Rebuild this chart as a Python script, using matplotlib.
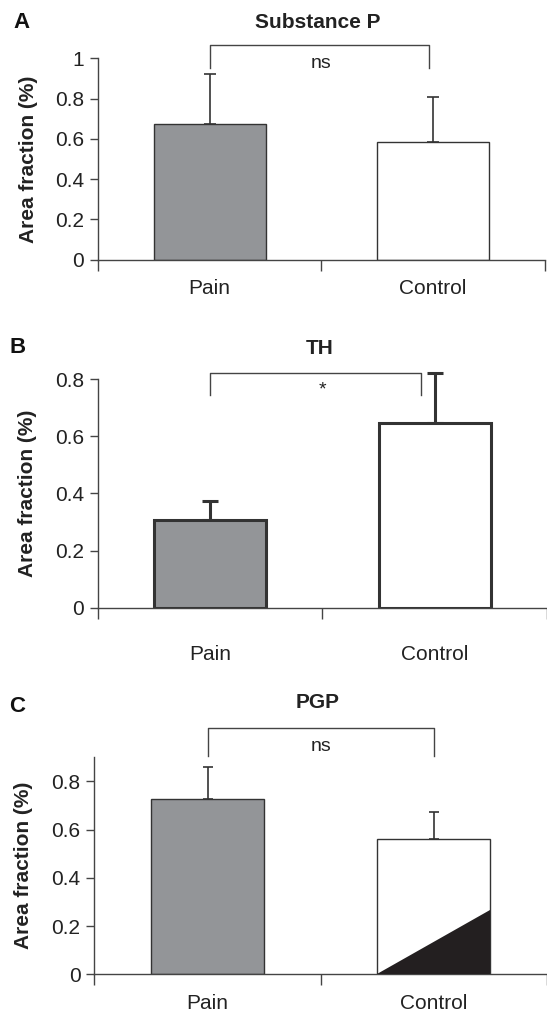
import matplotlib.pyplot as plt

plt.rcParams["font.family"] = ["Liberation Sans", "DejaVu Sans"]

groups = ["Pain", "Control"]
fill_colors = ["#939598", "#ffffff"]

sp_means = [0.672, 0.583]
sp_sem = [0.248, 0.227]

th_means = [0.307, 0.647]
th_sem = [0.068, 0.175]

pgp_means = [0.727, 0.560]
pgp_sem = [0.131, 0.115]
pgp_wedge_height = 0.267  # black wedge inside the control bar

panels = [
    dict(letter="A", title="Substance P", means=sp_means, sem=sp_sem,
         ylim=(0, 1.0), yticks=[0, 0.2, 0.4, 0.6, 0.8, 1.0],
         ytl=["0", "0.2", "0.4", "0.6", "0.8", "1"],
         bracket=(1.066, 0.95, 0.98), mark="ns", mark_y=0.975,
         pos=[0.179, 0.7439, 0.817, 0.1986], lw=1.0, elw=1.2, cap=4.0,
         xpad=14, title_y=23, letter_xy=(0.025, 0.978)),
    dict(letter="B", title="TH", means=th_means, sem=th_sem,
         ylim=(0, 0.8), yticks=[0, 0.2, 0.4, 0.6, 0.8],
         ytl=["0", "0.2", "0.4", "0.6", "0.8"],
         bracket=(0.822, 0.744, 0.94), mark="*", mark_y=0.76,
         pos=[0.179, 0.4007, 0.821, 0.2255], lw=2.2, elw=2.2, cap=5.5,
         xpad=27, title_y=348, letter_xy=(0.018, 0.657)),
    dict(letter="C", title="PGP", means=pgp_means, sem=pgp_sem,
         ylim=(0, 0.9), yticks=[0, 0.2, 0.4, 0.6, 0.8],
         ytl=["0", "0.2", "0.4", "0.6", "0.8"],
         bracket=(1.02, 0.904, 1.0), mark="ns", mark_y=0.945,
         pos=[0.1726, 0.0392, 0.8274, 0.214], lw=1.0, elw=1.2, cap=3.5,
         xpad=14, title_y=703, letter_xy=(0.016, 0.303)),
]

fig = plt.figure(figsize=(5.47, 10.14), dpi=100)

for p in panels:
    ax = fig.add_axes(p["pos"])
    x = list(range(len(groups)))
    width = 0.5
    eb = ax.errorbar(x, p["means"], yerr=[[0] * len(x), p["sem"]], fmt="none",
                     ecolor="#333333", elinewidth=p["elw"], capsize=p["cap"],
                     capthick=p["elw"], zorder=1)
    for art in eb.lines[1] + eb.lines[2]:
        art.set_clip_on(False)
    ax.bar(x, p["means"], width=width, color=fill_colors,
           edgecolor="#333333", linewidth=p["lw"], zorder=2)

    if p["letter"] == "C":
        xc = x[1]
        ax.fill([xc - width / 2, xc + width / 2, xc + width / 2],
                [0, 0, pgp_wedge_height], color="#231f20", zorder=3, lw=0)

    top, leg, xr = p["bracket"]
    ax.plot([0, 0, xr, xr], [leg, top, top, leg], color="#444444",
            lw=1.0, clip_on=False, zorder=4)
    ax.text(0.5, p["mark_y"], p["mark"], ha="center", va="center",
            fontsize=14, color="#222222")

    ax.set_xlim(-0.5, 1.5)
    ax.set_ylim(*p["ylim"])
    ax.set_yticks(p["yticks"])
    ax.set_yticklabels(p["ytl"])
    ax.set_xticks([-0.5, 0.5, 1.5])
    ax.set_xticklabels([])
    ax.set_xticks(x, minor=True)
    ax.set_xticklabels(groups, minor=True)
    ax.tick_params(axis="x", which="minor", length=0, pad=p["xpad"],
                   labelsize=15, labelcolor="#222222")
    ax.tick_params(axis="x", which="major", length=8, width=1.0,
                   color="#444444", direction="out")
    ax.tick_params(axis="y", length=6, width=1.0, color="#444444",
                   labelsize=15, labelcolor="#222222", pad=4)

    for side in ["top", "right"]:
        ax.spines[side].set_visible(False)
    for side in ["left", "bottom"]:
        ax.spines[side].set_color("#444444")
        ax.spines[side].set_linewidth(1.0)

    ax.set_ylabel("Area fraction (%)", fontsize=15, fontweight="bold",
                  color="#222222")
    ax.yaxis.set_label_coords(-0.135, 0.5)

    fig.text(p["pos"][0] + p["pos"][2] * 0.5 - 0.006, 1 - p["title_y"] / 1014,
             p["title"], fontsize=15, fontweight="bold", color="#222222",
             ha="center", va="center")
    fig.text(p["letter_xy"][0], p["letter_xy"][1], p["letter"],
             fontsize=16, fontweight="bold", color="#111111",
             ha="left", va="center")

fig.savefig("out.png", dpi=100)
